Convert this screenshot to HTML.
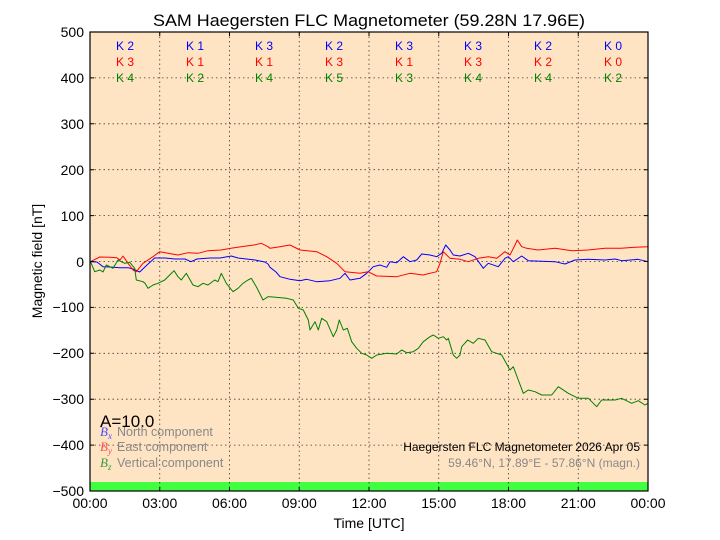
<!DOCTYPE html>
<html><head><meta charset="utf-8"><style>
html,body{margin:0;padding:0;background:#fff;}
svg{display:block;font-family:"Liberation Sans",sans-serif;}
</style></head><body>
<svg width="720" height="540" viewBox="0 0 720 540" xmlns="http://www.w3.org/2000/svg">
<rect x="0" y="0" width="720" height="540" fill="#fff"/>
<rect x="90" y="32" width="558" height="459" fill="#ffe4c4"/>
<rect x="90" y="482" width="558" height="9" fill="#40ff40"/>
<g stroke="#000" stroke-width="0.8" stroke-dasharray="1.5,3" fill="none" opacity="0.75">
<line x1="159.75" y1="32" x2="159.75" y2="491"/>
<line x1="229.5" y1="32" x2="229.5" y2="491"/>
<line x1="299.25" y1="32" x2="299.25" y2="491"/>
<line x1="369" y1="32" x2="369" y2="491"/>
<line x1="438.75" y1="32" x2="438.75" y2="491"/>
<line x1="508.5" y1="32" x2="508.5" y2="491"/>
<line x1="578.25" y1="32" x2="578.25" y2="491"/>
<line x1="90" y1="77.9" x2="648" y2="77.9"/>
<line x1="90" y1="123.8" x2="648" y2="123.8"/>
<line x1="90" y1="169.7" x2="648" y2="169.7"/>
<line x1="90" y1="215.6" x2="648" y2="215.6"/>
<line x1="90" y1="261.5" x2="648" y2="261.5"/>
<line x1="90" y1="307.4" x2="648" y2="307.4"/>
<line x1="90" y1="353.3" x2="648" y2="353.3"/>
<line x1="90" y1="399.2" x2="648" y2="399.2"/>
<line x1="90" y1="445.1" x2="648" y2="445.1"/>
</g>
<g fill="none" stroke-width="1" stroke-linejoin="round">
<polyline stroke="#0000ff" points="90.5,261.7 97,262 103,266.7 110,267 120,267.7 128,267.7 133,269 139.7,272 147,265 154.7,258 165,258 175,259 185,259 191,261.7 197,259 210,258 220,258 231.3,256 238,258 255,260 264.7,262 268,264 270,267.3 276,272 280,276.7 290,279.3 300,280.7 306.7,279.3 316.7,281.7 330,280.7 340,278.3 345,273.3 350,280 360,278.3 366.7,273.3 373.3,266.7 380,265 386.7,267.3 390,261.7 396.7,262.7 403.3,256.7 410,261.7 416.7,260 421.7,254 430,255 436.7,256.7 441.7,253.3 445.7,245 450,250 453.3,255 460,256 468.3,253.3 475,256.7 483.3,268.3 488.3,263.3 498.3,266.7 505,258.3 508.3,256.7 513.3,261.7 521.7,256 528.3,260.7 555,261.7 565,264 575,260 588,259.3 605,260 615,259 622,260.7 638,259.3 648,261.7"/>
<polyline stroke="#ff0000" points="90.5,261.7 99.7,257 110,257.3 116.7,257.7 120,260 123,256 128,263.3 133,270 136.3,271.7 143,263.3 153,256.7 159.7,251.7 168,253.3 178,255 188,252.7 198,253.3 208,250.7 221,250 231,248.3 241,246.7 254,245 261.3,243.3 268,246.7 270,248.3 280,246.7 290,245 300,250 316.7,251.7 326.7,256.7 336.7,263.3 345,271.7 360,273.3 368,271.7 376.7,276 396.7,276.7 410,273.3 423,275 436.7,271.7 440,263.3 443.3,251.7 450,258.3 460,259.3 468.3,261.7 478.3,258.3 488.3,256.7 496.7,258.3 505,251.7 510,255 515,245 517.3,240 521.7,246.7 526.7,248.3 538,250 555,248.3 572,250.7 588,250 605,248.3 621,248.3 635,247.3 648,246.7"/>
<polyline stroke="#008000" points="90.5,261.7 94.7,271.7 100,270 103,272 106.3,265 113,268.3 118,260 124.7,263.3 129.7,262.3 134.7,268.3 136.3,280 143,281.7 145,283.3 148,288.3 153,285 158,283.3 164.7,280 169.7,275 174,270.7 178,276.7 181.3,280 186.3,273.3 193,285 198,286.7 203,283.3 208,285 214.7,280 218,281.7 221.3,273.3 226.3,283.3 233,291.7 238,288.3 243,283.3 248,280 251.3,278.3 256.3,286.7 263,300 268,296.7 270,296.7 286.7,298.3 293.3,300 298.3,308.3 303.3,310 308.3,320 310,330 315,321.7 318.3,330 321.7,318.3 326.7,321.7 333.3,336.7 336.7,330 339.3,320 343.3,330 347.3,328.3 351.7,341.7 356.7,348.3 361.7,353.3 366.7,355 371.7,358.3 376.7,355 386.7,353.3 396.7,354 401.7,350 406.7,352.7 413.3,351.7 418.3,348.3 423.3,341.7 430,336.7 433.3,335 438.3,338.3 443.3,336.7 446.7,340 448.3,338.3 453.3,355 456.7,358.3 460,355 461.7,346.7 467.7,340 473.3,343.3 478.3,338.3 485,340 491.7,351.7 501.7,355 510,370 513.3,366.7 518.3,380 523.3,393.3 528.3,390 535,391.7 541.7,395 551.7,395 558.3,386.7 568.3,393.3 578.3,398.3 588.3,398.3 596.7,406.7 601.7,400 615,400 621.7,398.3 631.7,403.3 638.3,400.7 645,405 648,403.3"/>
</g>
<!-- ticks -->
<g stroke="#000" stroke-width="1">
<path d="M90,77.9h4M90,123.8h4M90,169.7h4M90,215.6h4M90,261.5h4M90,307.4h4M90,353.3h4M90,399.2h4M90,445.1h4
M648,77.9h-4M648,123.8h-4M648,169.7h-4M648,215.6h-4M648,261.5h-4M648,307.4h-4M648,353.3h-4M648,399.2h-4M648,445.1h-4
M159.75,491v-4M229.5,491v-4M299.25,491v-4M369,491v-4M438.75,491v-4M508.5,491v-4M578.25,491v-4
M159.75,32v4M229.5,32v4M299.25,32v4M369,32v4M438.75,32v4M508.5,32v4M578.25,32v4"/>
</g>
<rect x="90" y="32" width="558" height="459" fill="none" stroke="#000" stroke-width="1.2"/>
<!-- K indices -->
<g font-size="12" text-anchor="middle">
<g fill="#0000ff">
<text x="125" y="50">K 2</text><text x="195" y="50">K 1</text><text x="264" y="50">K 3</text><text x="334" y="50">K 2</text><text x="404" y="50">K 3</text><text x="473" y="50">K 3</text><text x="543" y="50">K 2</text><text x="613" y="50">K 0</text>
</g>
<g fill="#ff0000">
<text x="125" y="66">K 3</text><text x="195" y="66">K 1</text><text x="264" y="66">K 1</text><text x="334" y="66">K 3</text><text x="404" y="66">K 1</text><text x="473" y="66">K 3</text><text x="543" y="66">K 2</text><text x="613" y="66">K 0</text>
</g>
<g fill="#008000">
<text x="125" y="82">K 4</text><text x="195" y="82">K 2</text><text x="264" y="82">K 4</text><text x="334" y="82">K 5</text><text x="404" y="82">K 3</text><text x="473" y="82">K 4</text><text x="543" y="82">K 4</text><text x="613" y="82">K 2</text>
</g>
</g>
<!-- y labels -->
<g font-size="14" text-anchor="end" fill="#000">
<text x="84" y="37">500</text>
<text x="84" y="83">400</text>
<text x="84" y="129">300</text>
<text x="84" y="175">200</text>
<text x="84" y="221">100</text>
<text x="84" y="267">0</text>
<text x="84" y="312">−100</text>
<text x="84" y="358">−200</text>
<text x="84" y="404">−300</text>
<text x="84" y="450">−400</text>
<text x="84" y="496">−500</text>
</g>
<!-- x labels -->
<g font-size="14" text-anchor="middle" fill="#000">
<text x="90" y="508">00:00</text>
<text x="159.75" y="508">03:00</text>
<text x="229.5" y="508">06:00</text>
<text x="299.25" y="508">09:00</text>
<text x="369" y="508">12:00</text>
<text x="438.75" y="508">15:00</text>
<text x="508.5" y="508">18:00</text>
<text x="578.25" y="508">21:00</text>
<text x="648" y="508">00:00</text>
</g>
<text x="369" y="528" font-size="14" text-anchor="middle">Time [UTC]</text>
<text transform="translate(42,261) rotate(-90)" font-size="14" text-anchor="middle">Magnetic field [nT]</text>
<text x="369" y="26" font-size="17" text-anchor="middle" textLength="432" lengthAdjust="spacingAndGlyphs">SAM Haegersten FLC Magnetometer (59.28N 17.96E)</text>
<!-- legend -->
<text x="100" y="427" font-size="17" fill="#000">A=10.0</text>
<g font-size="12.5" fill="#888">
<text x="117" y="436">North component</text>
<text x="117" y="451">East component</text>
<text x="117" y="467">Vertical component</text>
</g>
<g font-family="'Liberation Serif',serif" font-style="italic" font-size="13">
<text x="100" y="436" fill="#4d4dff">B<tspan font-size="9" dy="3">x</tspan></text>
<text x="100" y="451" fill="#ff4d4d">B<tspan font-size="9" dy="3">y</tspan></text>
<text x="100" y="467" fill="#3a9a3a">B<tspan font-size="9" dy="3">z</tspan></text>
</g>
<text x="640" y="451" font-size="12" text-anchor="end" fill="#000">Haegersten FLC Magnetometer 2026 Apr 05</text>
<text x="640" y="467" font-size="12" text-anchor="end" fill="#888">59.46°N, 17.89°E - 57.86°N (magn.)</text>
</svg>
</body></html>
